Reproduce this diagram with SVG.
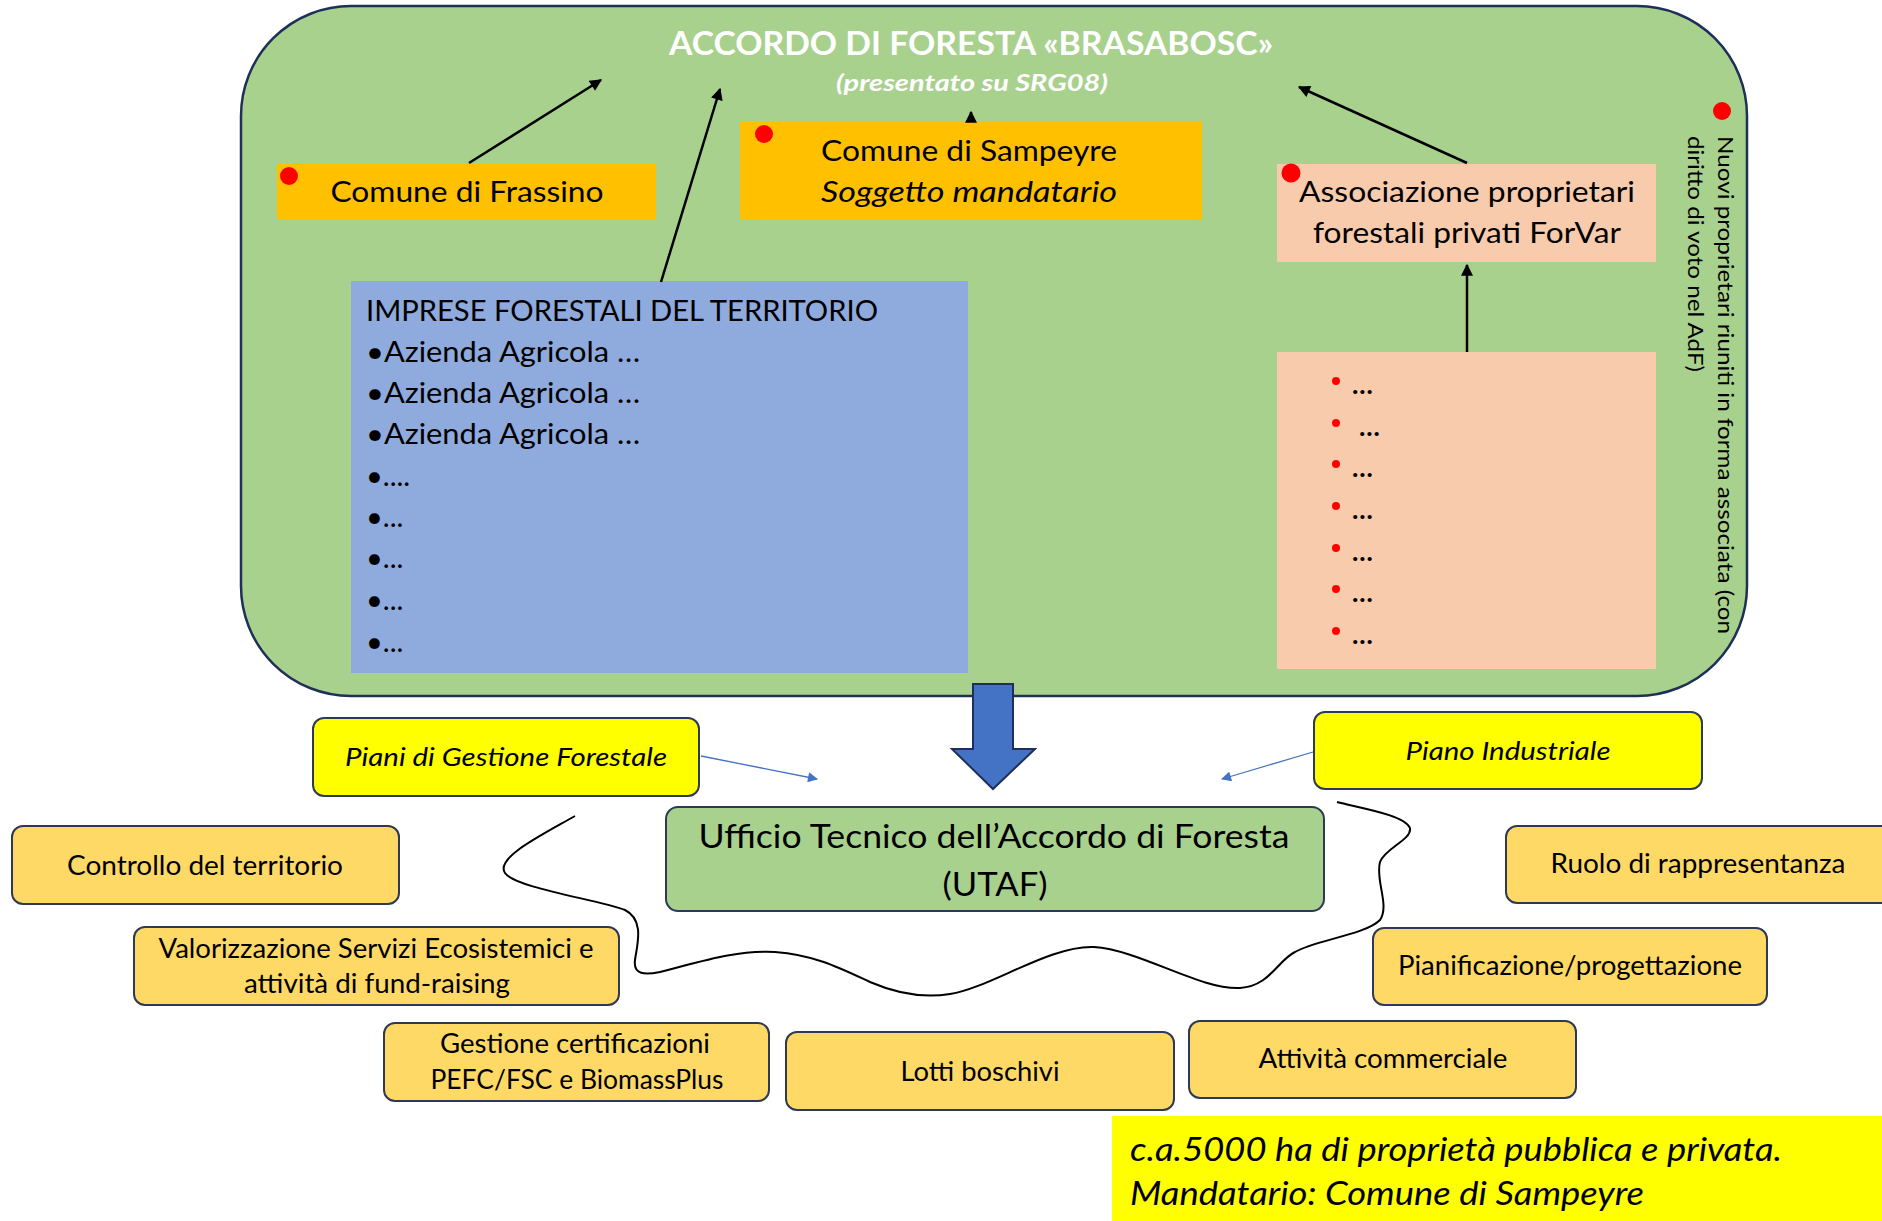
<svg xmlns="http://www.w3.org/2000/svg" width="1882" height="1221" viewBox="0 0 1882 1221">
<defs>
<style>
text { font-family: Lato, "Open Sans", "Liberation Sans", sans-serif; fill:#000; }
.c { text-anchor: middle; }
.it { font-style: italic; }
.task { fill:#FFD966; stroke:#2E3A55; stroke-width:2; }
.arr { stroke:#000; stroke-width:2.5; fill:none; marker-end:url(#ah); }
.thin { stroke:#4472C4; stroke-width:1.3; fill:none; marker-end:url(#ahb); }
.t26 { font-size:26px; }
.t28 { font-size:28px; }
.t29 { font-size:29px; }
.rdot { fill:#FF0000; }
.ell { font-size:27px; font-weight:bold; }
</style>
<marker id="ah" viewBox="0 0 10 10" refX="9" refY="5" markerWidth="13" markerHeight="12" orient="auto" markerUnits="userSpaceOnUse">
<path d="M0,0 L10,5 L0,10 z" fill="#000"/>
</marker>
<marker id="ahb" viewBox="0 0 10 10" refX="9" refY="5" markerWidth="11" markerHeight="10" orient="auto" markerUnits="userSpaceOnUse">
<path d="M0,0 L10,5 L0,10 z" fill="#4472C4"/>
</marker>
</defs>
<rect width="1882" height="1221" fill="#FFFFFF"/>

<g id="accordo">
<rect x="241" y="6" width="1506" height="690" rx="110" ry="110" fill="#A9D18E" stroke="#1F3058" stroke-width="2.5"/>
<text x="971" y="55" class="c" font-size="33" font-weight="bold" style="fill:#FFFFFF" textLength="604" lengthAdjust="spacingAndGlyphs">ACCORDO DI FORESTA «BRASABOSC»</text>
<text x="972" y="91" class="c it" font-size="23" font-weight="bold" style="fill:#FFFFFF" textLength="272" lengthAdjust="spacingAndGlyphs">(presentato su SRG08)</text>
</g>

<g id="frassino">
<rect x="277" y="163" width="379" height="57" fill="#FFC000"/>
<circle cx="289" cy="176" r="9" class="rdot"/>
<text x="467" y="202" class="c t28" textLength="273" lengthAdjust="spacingAndGlyphs">Comune di Frassino</text>
</g>

<g id="sampeyre">
<rect x="740" y="121" width="462" height="99" fill="#FFC000"/>
<circle cx="764" cy="134" r="9" class="rdot"/>
<text x="969" y="161" class="c t28" textLength="296" lengthAdjust="spacingAndGlyphs">Comune di Sampeyre</text>
<text x="969" y="202" class="c t28 it" textLength="296" lengthAdjust="spacingAndGlyphs">Soggetto mandatario</text>
</g>

<g id="associazione">
<rect x="1277" y="164" width="379" height="98" fill="#F8CBAD"/>
<circle cx="1291" cy="173" r="9.5" class="rdot"/>
<text x="1467" y="202" class="c t28" textLength="336" lengthAdjust="spacingAndGlyphs">Associazione proprietari</text>
<text x="1467" y="243" class="c t28" textLength="308" lengthAdjust="spacingAndGlyphs">forestali privati ForVar</text>
</g>

<g id="imprese">
<rect x="351" y="281" width="617" height="392" fill="#8FAADC"/>
<text x="366" y="321" class="t29" textLength="512" lengthAdjust="spacingAndGlyphs">IMPRESE FORESTALI DEL TERRITORIO</text>
<text x="366" y="362" class="t29" textLength="274" lengthAdjust="spacingAndGlyphs">•Azienda Agricola …</text>
<text x="366" y="403" class="t29" textLength="274" lengthAdjust="spacingAndGlyphs">•Azienda Agricola …</text>
<text x="366" y="444" class="t29" textLength="274" lengthAdjust="spacingAndGlyphs">•Azienda Agricola …</text>
<text x="366" y="486" class="t29">•....</text>
<text x="366" y="527" class="t29">•...</text>
<text x="366" y="568" class="t29">•...</text>
<text x="366" y="610" class="t29">•...</text>
<text x="366" y="652" class="t29">•...</text>
</g>

<g id="proprietari">
<rect x="1277" y="352" width="379" height="317" fill="#F8CBAD"/>
<circle cx="1336" cy="381" r="4" class="rdot"/>
<circle cx="1336" cy="423" r="4" class="rdot"/>
<circle cx="1336" cy="464" r="4" class="rdot"/>
<circle cx="1336" cy="506" r="4" class="rdot"/>
<circle cx="1336" cy="548" r="4" class="rdot"/>
<circle cx="1336" cy="589" r="4" class="rdot"/>
<circle cx="1336" cy="631" r="4" class="rdot"/>
<text x="1352" y="394" class="ell">…</text>
<text x="1359" y="436" class="ell">…</text>
<text x="1352" y="477" class="ell">…</text>
<text x="1352" y="519" class="ell">…</text>
<text x="1352" y="561" class="ell">…</text>
<text x="1352" y="602" class="ell">…</text>
<text x="1352" y="644" class="ell">…</text>
</g>

<g id="nuovi">
<circle cx="1722" cy="111" r="9" class="rdot"/>
<text transform="translate(1718,136) rotate(90)" font-size="22" textLength="498" lengthAdjust="spacingAndGlyphs">Nuovi proprietari riuniti in forma associata (con</text>
<text transform="translate(1688,136) rotate(90)" font-size="22" textLength="236" lengthAdjust="spacingAndGlyphs">diritto di voto nel AdF)</text>
</g>

<g id="piani">
<rect x="313" y="718" width="386" height="78" rx="11" fill="#FFFF00" stroke="#2E3A55" stroke-width="2"/>
<text x="506" y="766" class="c t26 it" textLength="322" lengthAdjust="spacingAndGlyphs">Piani di Gestione Forestale</text>
</g>

<g id="piano-industriale">
<rect x="1314" y="712" width="388" height="77" rx="11" fill="#FFFF00" stroke="#2E3A55" stroke-width="2"/>
<text x="1508" y="760" class="c t26 it" textLength="205" lengthAdjust="spacingAndGlyphs">Piano Industriale</text>
</g>

<g id="utaf">
<rect x="666" y="807" width="658" height="104" rx="12" fill="#A9D18E" stroke="#2E3A55" stroke-width="2"/>
<text x="994" y="848" class="c" font-size="33" textLength="591" lengthAdjust="spacingAndGlyphs">Ufficio Tecnico dell’Accordo di Foresta</text>
<text x="995" y="896" class="c" font-size="33" textLength="105" lengthAdjust="spacingAndGlyphs">(UTAF)</text>
</g>

<g id="controllo">
<rect x="12" y="826" width="387" height="78" rx="11" class="task"/>
<text x="205" y="875" class="c t26" textLength="276" lengthAdjust="spacingAndGlyphs">Controllo del territorio</text>
</g>

<g id="valorizzazione">
<rect x="134" y="927" width="485" height="78" rx="11" class="task"/>
<text x="376" y="958" class="c t26" textLength="435" lengthAdjust="spacingAndGlyphs">Valorizzazione Servizi Ecosistemici e</text>
<text x="377" y="993" class="c t26" textLength="266" lengthAdjust="spacingAndGlyphs">attività di fund-raising</text>
</g>

<g id="gestione">
<rect x="384" y="1023" width="385" height="78" rx="11" class="task"/>
<text x="575" y="1053" class="c t26" textLength="270" lengthAdjust="spacingAndGlyphs">Gestione certificazioni</text>
<text x="577" y="1089" class="c t26" textLength="293" lengthAdjust="spacingAndGlyphs">PEFC/FSC e BiomassPlus</text>
</g>

<g id="lotti">
<rect x="786" y="1032" width="388" height="78" rx="11" class="task"/>
<text x="980" y="1081" class="c t26" textLength="159" lengthAdjust="spacingAndGlyphs">Lotti boschivi</text>
</g>

<g id="attivita">
<rect x="1189" y="1021" width="387" height="77" rx="11" class="task"/>
<text x="1383" y="1068" class="c t26" textLength="249" lengthAdjust="spacingAndGlyphs">Attività commerciale</text>
</g>

<g id="pianificazione">
<rect x="1373" y="928" width="394" height="77" rx="11" class="task"/>
<text x="1570" y="975" class="c t26" textLength="344" lengthAdjust="spacingAndGlyphs">Pianificazione/progettazione</text>
</g>

<g id="ruolo">
<rect x="1506" y="826" width="400" height="77" rx="11" class="task"/>
<text x="1698" y="873" class="c t26" textLength="295" lengthAdjust="spacingAndGlyphs">Ruolo di rappresentanza</text>
</g>

<g id="nota">
<rect x="1112" y="1116" width="770" height="105" fill="#FFFF00"/>
<text x="1130" y="1161" class="it" font-size="32" textLength="652" lengthAdjust="spacingAndGlyphs">c.a.5000 ha di proprietà pubblica e privata.</text>
<text x="1130" y="1205" class="it" font-size="32" textLength="514" lengthAdjust="spacingAndGlyphs">Mandatario: Comune di Sampeyre</text>
</g>

<g id="connectors">
<line x1="469" y1="163" x2="601" y2="80" class="arr"/>
<line x1="661" y1="282" x2="720" y2="89" class="arr"/>
<line x1="971" y1="121" x2="971" y2="112" class="arr"/>
<line x1="1467" y1="163" x2="1299" y2="87" class="arr"/>
<line x1="1467" y1="352" x2="1467" y2="265" class="arr"/>
<line x1="701" y1="756" x2="817" y2="779" class="thin"/>
<line x1="1313" y1="752" x2="1222" y2="779" class="thin"/>
<path d="M973,684 L1013,684 L1013,749 L1035,749 L993,789 L952,749 L973,749 Z" fill="#4472C4" stroke="#1F3058" stroke-width="2"/>
<path d="M575,816 C540,836 495,858 505,873 C515,888 600,900 625,910 C645,920 637,945 635,960 C633,975 645,975 660,972 C700,962 735,950 775,952 C815,955 840,968 870,982 C900,995 925,998 950,994 C990,988 1050,945 1094,947 C1140,950 1200,990 1240,988 C1270,986 1278,960 1295,952 C1315,940 1365,935 1380,920 C1390,905 1375,880 1380,862 C1385,848 1412,840 1410,828 C1405,815 1360,808 1337,802" fill="none" stroke="#000" stroke-width="2"/>
</g>
</svg>
